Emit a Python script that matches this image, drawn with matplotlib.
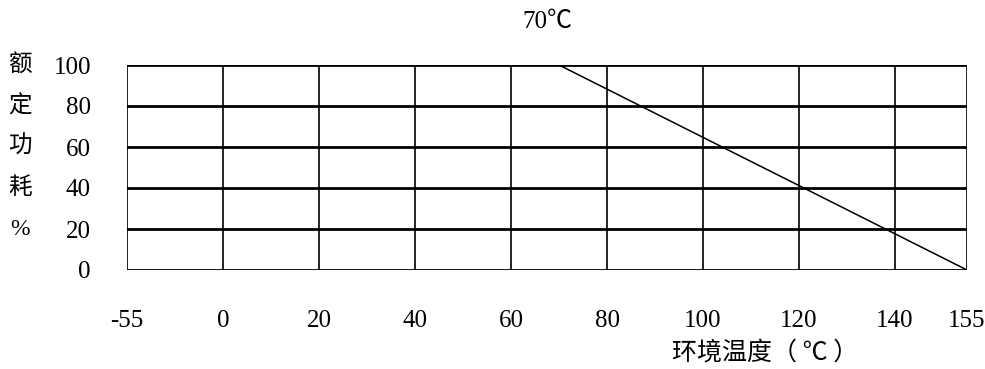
import matplotlib
matplotlib.use("Agg")
import matplotlib.pyplot as plt

plt.rcParams['font.family'] = ['Liberation Serif', 'Noto Sans CJK SC']

# x axis categories (uneven: -55 sits one slot left of 0, 155 is 3/4 slot after 140)
x_labels = ['-55', '0', '20', '40', '60', '80', '100', '120', '140', '155']
x_temps = [-55, 0, 20, 40, 60, 80, 100, 120, 140, 155]
y_ticks = [0, 20, 40, 60, 80, 100]
y_chars = ['额', '定', '功', '耗', '%']

# derating curve
curve_t = [70, 155]
curve_p = [100, 0]


def pos(t):
    # -55 is drawn at slot 0, everything else is linear 20 degC per slot
    if t < 0:
        return 0.0
    return 1 + t / 20.0


x_pos = [pos(t) for t in x_temps]

fig = plt.figure(figsize=(9.85, 3.69), dpi=100)
ax = fig.add_axes([127 / 985, 99 / 369, 840 / 985, 205 / 369])

for xp in x_pos:
    ax.axvline(xp, color='black', lw=1.2)
for yv in y_ticks:
    ax.axhline(yv, color='black', lw=2.0)

ax.plot([pos(t) for t in curve_t], curve_p, color='black', lw=1.1)

ax.set_xlim(x_pos[0], x_pos[-1])
ax.set_ylim(0, 100)
for s in ax.spines.values():
    s.set_visible(False)

ax.set_xticks(x_pos)
ax.set_xticklabels(x_labels, fontsize=18)
ax.set_yticks(y_ticks)
ax.set_yticklabels([str(v) for v in y_ticks], fontsize=18)
ax.tick_params(axis='x', length=0, pad=29)
ax.tick_params(axis='y', length=0, pad=26)

for ch, yv in zip(y_chars, y_ticks[::-1][:5]):
    fig.text(20 / 985, 1 - (65 + (100 - yv) * 2.05) / 369, ch, fontsize=17,
             ha='center', va='center')

fig.text(547 / 985, 1 - 22 / 369, '70℃', fontsize=18, ha='center', va='center')
fig.text(765 / 985, 1 - 353 / 369, '环境温度（ ℃ ）', fontsize=18,
         family=['Noto Sans CJK SC'], ha='center', va='center')

fig.savefig('out.png', dpi=100)
